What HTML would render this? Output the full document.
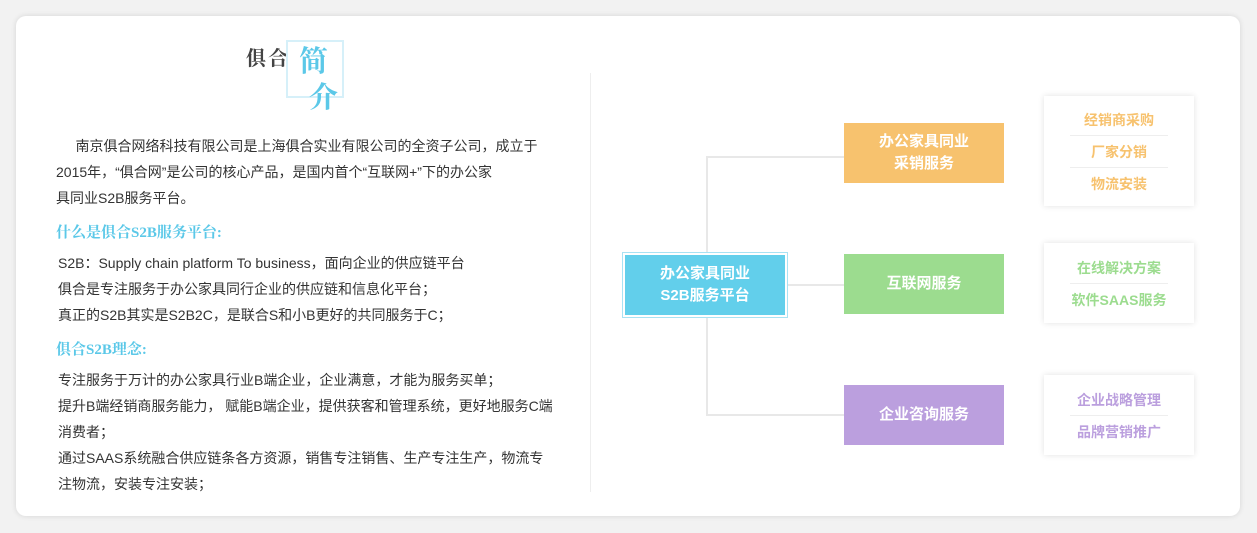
<!DOCTYPE html>
<html><head><meta charset="utf-8"><style>
*{margin:0;padding:0;box-sizing:border-box}
body{width:1257px;height:533px;background:#f2f2f2;font-family:"Liberation Sans","Noto Sans CJK SC",sans-serif;position:relative;overflow:hidden}
.card{position:absolute;left:16px;top:16px;width:1224px;height:500px;background:#fff;border-radius:10px;box-shadow:0 0 6px rgba(0,0,0,.12)}
.a{position:absolute;white-space:nowrap}
.t{font-size:14px;color:#333;line-height:26px}
.h{font-family:"Liberation Serif","Noto Serif CJK SC",serif;font-weight:bold;font-size:15px;color:#5bc8e8}
.line{position:absolute;background:#e8e8e8}
.box{position:absolute;display:flex;align-items:center;justify-content:center;text-align:center;color:#fff;font-weight:bold;font-size:15px;line-height:22px}
.wb{position:absolute;background:#fff;box-shadow:0 0 6px rgba(0,0,0,.12)}
.it{position:absolute;left:26px;width:98px;text-align:center;font-size:14px;font-weight:bold;line-height:30px}
</style></head><body>
<div class="card"></div>
<div class="a" style="left:246px;top:42px;font-family:'Liberation Serif','Noto Serif CJK SC',serif;font-weight:bold;font-size:20px;color:#444;letter-spacing:2px">俱合</div>
<div class="a" style="left:286px;top:40px;width:58px;height:58px;border:2px solid #d6f0f9"></div>
<div class="a" style="left:299px;top:44px;font-family:'Liberation Serif','Noto Serif CJK SC',serif;font-weight:bold;font-size:29px;color:#5bc8e8;line-height:36px">简<br><span style="margin-left:10px">介</span></div>

<div class="a t" style="left:56px;top:133px">&nbsp;&nbsp;&nbsp;&nbsp;&nbsp;南京俱合网络科技有限公司是上海俱合实业有限公司的全资子公司，成立于<br>2015年，“俱合网”是公司的核心产品，是国内首个“互联网+”下的办公家<br>具同业S2B服务平台。</div>
<div class="a h" style="left:56px;top:221px">什么是俱合S2B服务平台:</div>
<div class="a t" style="left:58px;top:250px">S2B：Supply chain platform To business，面向企业的供应链平台<br>俱合是专注服务于办公家具同行企业的供应链和信息化平台；<br>真正的S2B其实是S2B2C，是联合S和小B更好的共同服务于C；</div>
<div class="a h" style="left:56px;top:338px">俱合S2B理念:</div>
<div class="a t" style="left:58px;top:367px">专注服务于万计的办公家具行业B端企业，企业满意，才能为服务买单；<br>提升B端经销商服务能力， 赋能B端企业，提供获客和管理系统，更好地服务C端<br>消费者；<br>通过SAAS系统融合供应链条各方资源，销售专注销售、生产专注生产，物流专<br>注物流，安装专注安装；</div>

<div class="line" style="left:590px;top:73px;width:1px;height:419px;background:#eee"></div>

<div class="line" style="left:706px;top:156px;width:2px;height:260px"></div>
<div class="line" style="left:706px;top:156px;width:138px;height:2px"></div>
<div class="line" style="left:788px;top:284px;width:56px;height:2px"></div>
<div class="line" style="left:706px;top:414px;width:138px;height:2px"></div>

<div class="box" style="left:622px;top:252px;width:166px;height:66px;border:1px solid #a8e2f3;background:#fff"></div>
<div class="box" style="left:625px;top:255px;width:160px;height:60px;background:#62cfeb">办公家具同业<br>S2B服务平台</div>
<div class="box" style="left:844px;top:123px;width:160px;height:60px;background:#f7c26e">办公家具同业<br>采销服务</div>
<div class="box" style="left:844px;top:254px;width:160px;height:60px;background:#9cdc8f">互联网服务</div>
<div class="box" style="left:844px;top:385px;width:160px;height:60px;background:#bb9fde">企业咨询服务</div>

<div class="wb" style="left:1044px;top:96px;width:150px;height:110px;color:#f7c26e">
<div class="it" style="top:9px;border-bottom:1px solid #eee">经销商采购</div>
<div class="it" style="top:41px;border-bottom:1px solid #eee">厂家分销</div>
<div class="it" style="top:73px">物流安装</div></div>
<div class="wb" style="left:1044px;top:243px;width:150px;height:80px;color:#9cdc8f">
<div class="it" style="top:10px;border-bottom:1px solid #eee">在线解决方案</div>
<div class="it" style="top:42px;left:10px;width:130px">软件SAAS服务</div></div>
<div class="wb" style="left:1044px;top:375px;width:150px;height:80px;color:#bb9fde">
<div class="it" style="top:10px;border-bottom:1px solid #eee">企业战略管理</div>
<div class="it" style="top:42px">品牌营销推广</div></div>
</body></html>
